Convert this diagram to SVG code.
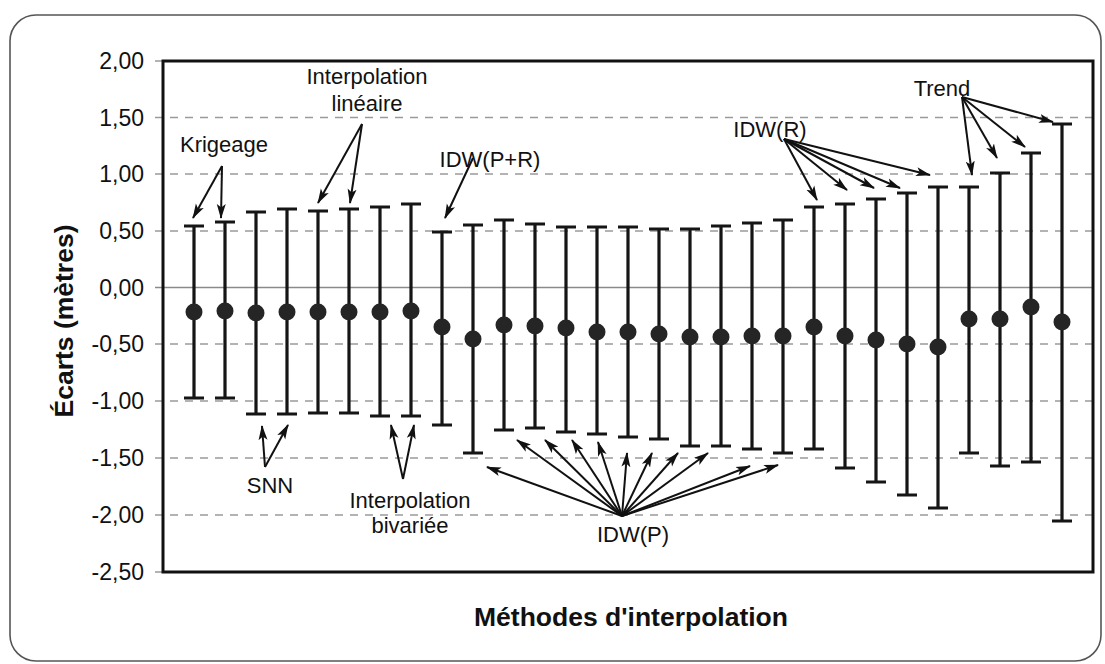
<svg xmlns="http://www.w3.org/2000/svg" width="1105" height="664" viewBox="0 0 1105 664">
  <style>
    text { font-family: "Liberation Sans", Arial, sans-serif; fill: #111; }
    .tick { font-size: 23px; text-anchor: end; }
    .lbl { font-size: 22px; text-anchor: middle; }
    .title { font-size: 26.5px; font-weight: bold; text-anchor: middle; }
    .grid { stroke: #9a9a9a; stroke-width: 1.5; stroke-dasharray: 8 7; fill: none; }
    .zero { stroke: #8a8a8a; stroke-width: 1.5; fill: none; }
    .frame { fill: none; stroke: #111; stroke-width: 3; }
    .bar path { stroke: #151515; stroke-width: 3.2; fill: none; }
    .bar circle { fill: #252525; }
    .arr line { stroke: #111; stroke-width: 2; marker-end: url(#head); }
  </style>
  <defs>
    <marker id="head" markerUnits="userSpaceOnUse" markerWidth="15" markerHeight="11" refX="14" refY="5.5" orient="auto">
      <path d="M0,1 L15,5.5 L0,10 L3.5,5.5 z" fill="#111"/>
    </marker>
  </defs>

  <!-- outer rounded border -->
  <rect x="10" y="15" width="1091" height="646" rx="26" ry="26" fill="#fff" stroke="#555" stroke-width="1.6"/>

  <!-- horizontal grid lines -->
  <g id="grid">
    <line class="grid" x1="155" y1="117.5" x2="1092" y2="117.5"/>
    <line class="grid" x1="155" y1="174" x2="1092" y2="174"/>
    <line class="grid" x1="155" y1="231" x2="1092" y2="231"/>
    <line class="zero" x1="155" y1="287.5" x2="1092" y2="287.5"/>
    <line class="grid" x1="155" y1="344" x2="1092" y2="344"/>
    <line class="grid" x1="155" y1="401" x2="1092" y2="401"/>
    <line class="grid" x1="155" y1="458" x2="1092" y2="458"/>
    <line class="grid" x1="155" y1="515" x2="1092" y2="515"/>
    <line class="grid" x1="155" y1="61" x2="163" y2="61"/>
    <line class="grid" x1="155" y1="572" x2="163" y2="572"/>
  </g>

  <!-- plot frame -->
  <rect class="frame" x="163" y="61" width="930" height="511"/>

  <!-- y axis values -->
  <g id="yticks">
    <text class="tick" x="144" y="69">2,00</text>
    <text class="tick" x="144" y="125.5">1,50</text>
    <text class="tick" x="144" y="182">1,00</text>
    <text class="tick" x="144" y="239">0,50</text>
    <text class="tick" x="144" y="295.5">0,00</text>
    <text class="tick" x="144" y="352">-0,50</text>
    <text class="tick" x="144" y="409">-1,00</text>
    <text class="tick" x="144" y="466">-1,50</text>
    <text class="tick" x="144" y="523">-2,00</text>
    <text class="tick" x="144" y="580">-2,50</text>
  </g>

  <!-- axis titles -->
  <text id="x-title" class="title" x="631" y="626">Méthodes d'interpolation</text>
  <text id="y-title" class="title" transform="translate(73,321) rotate(-90)">Écarts (mètres)</text>

  <!-- error bars: cap, stem, cap, mean marker -->
  <g id="bars" class="bar">
    <path d="M184,226h20M194,226V398M184,398h20"/><circle cx="194" cy="312" r="8.5"/>
    <path d="M215,222h20M225,222V398M215,398h20"/><circle cx="225" cy="311" r="8.5"/>
    <path d="M246,212h20M256,212V414M246,414h20"/><circle cx="256" cy="313" r="8.5"/>
    <path d="M277,209h20M287,209V414M277,414h20"/><circle cx="287" cy="312" r="8.5"/>
    <path d="M308,211h20M318,211V413M308,413h20"/><circle cx="318" cy="312" r="8.5"/>
    <path d="M339,209h20M349,209V413M339,413h20"/><circle cx="349" cy="312" r="8.5"/>
    <path d="M370,207h20M380,207V416M370,416h20"/><circle cx="380" cy="312" r="8.5"/>
    <path d="M401,204h20M411,204V416M401,416h20"/><circle cx="411" cy="311" r="8.5"/>
    <path d="M432,232h20M442,232V425M432,425h20"/><circle cx="442" cy="327" r="8.5"/>
    <path d="M463,225h20M473,225V453M463,453h20"/><circle cx="473" cy="339" r="8.5"/>
    <path d="M494,220h20M504,220V430M494,430h20"/><circle cx="504" cy="325" r="8.5"/>
    <path d="M525,224h20M535,224V428M525,428h20"/><circle cx="535" cy="326" r="8.5"/>
    <path d="M556,227h20M566,227V432M556,432h20"/><circle cx="566" cy="328" r="8.5"/>
    <path d="M587,227h20M597,227V434M587,434h20"/><circle cx="597" cy="332" r="8.5"/>
    <path d="M618,227h20M628,227V437M618,437h20"/><circle cx="628" cy="332" r="8.5"/>
    <path d="M649,229h20M659,229V439M649,439h20"/><circle cx="659" cy="334" r="8.5"/>
    <path d="M680,229h20M690,229V446M680,446h20"/><circle cx="690" cy="337" r="8.5"/>
    <path d="M711,226h20M721,226V446M711,446h20"/><circle cx="721" cy="337" r="8.5"/>
    <path d="M742,223h20M752,223V449M742,449h20"/><circle cx="752" cy="336" r="8.5"/>
    <path d="M773,220h20M783,220V453M773,453h20"/><circle cx="783" cy="336" r="8.5"/>
    <path d="M804,207h20M814,207V449M804,449h20"/><circle cx="814" cy="327" r="8.5"/>
    <path d="M835,204h20M845,204V468M835,468h20"/><circle cx="845" cy="336" r="8.5"/>
    <path d="M866,199h20M876,199V482M866,482h20"/><circle cx="876" cy="340" r="8.5"/>
    <path d="M897,193h20M907,193V495M897,495h20"/><circle cx="907" cy="344" r="8.5"/>
    <path d="M928,187h20M938,187V508M928,508h20"/><circle cx="938" cy="347" r="8.5"/>
    <path d="M959,187h20M969,187V453M959,453h20"/><circle cx="969" cy="319" r="8.5"/>
    <path d="M990,173h20M1000,173V466M990,466h20"/><circle cx="1000" cy="319" r="8.5"/>
    <path d="M1021,153h20M1031,153V462M1021,462h20"/><circle cx="1031" cy="307" r="8.5"/>
    <path d="M1052,124h20M1062,124V521M1052,521h20"/><circle cx="1062" cy="322" r="8.5"/>
  </g>

  <!-- method labels -->
  <g id="krigeage"><text class="lbl" x="224" y="152">Krigeage</text></g>
  <g id="lineaire"><text class="lbl" x="367" y="84">Interpolation</text><text class="lbl" x="367" y="111">linéaire</text></g>
  <g id="idw-pr"><text class="lbl" x="490" y="167">IDW(P+R)</text></g>
  <g id="snn"><text class="lbl" x="270" y="493">SNN</text></g>
  <g id="bivariee"><text class="lbl" x="410" y="508">Interpolation</text><text class="lbl" x="410" y="533">bivariée</text></g>
  <g id="idw-p"><text class="lbl" x="633" y="542">IDW(P)</text></g>
  <g id="idw-r"><text class="lbl" x="770" y="137">IDW(R)</text></g>
  <g id="trend"><text class="lbl" x="942" y="96">Trend</text></g>

  <!-- pointer arrows from labels to bars -->
  <g id="connectors" class="arr">
    <line x1="222" y1="166" x2="193" y2="218"/>
    <line x1="222" y1="166" x2="221" y2="218"/>
    <line x1="362" y1="124" x2="318" y2="203"/>
    <line x1="362" y1="124" x2="350" y2="203"/>
    <line x1="473" y1="158" x2="445" y2="218"/>
    <line x1="265" y1="467" x2="262" y2="426"/>
    <line x1="265" y1="467" x2="288" y2="425"/>
    <line x1="403" y1="479" x2="391" y2="425"/>
    <line x1="403" y1="479" x2="414" y2="425"/>
    <line x1="622" y1="516" x2="487" y2="467"/>
    <line x1="622" y1="516" x2="517" y2="440"/>
    <line x1="622" y1="516" x2="545" y2="440"/>
    <line x1="622" y1="516" x2="572" y2="440"/>
    <line x1="622" y1="516" x2="598" y2="442"/>
    <line x1="622" y1="516" x2="627" y2="453"/>
    <line x1="622" y1="516" x2="652" y2="453"/>
    <line x1="622" y1="516" x2="678" y2="453"/>
    <line x1="622" y1="516" x2="708" y2="453"/>
    <line x1="622" y1="516" x2="750" y2="466"/>
    <line x1="622" y1="516" x2="778" y2="465"/>
    <line x1="784" y1="139" x2="817" y2="200"/>
    <line x1="784" y1="139" x2="847" y2="190"/>
    <line x1="784" y1="139" x2="874" y2="188"/>
    <line x1="784" y1="139" x2="900" y2="188"/>
    <line x1="784" y1="139" x2="930" y2="175"/>
    <line x1="962" y1="97" x2="972" y2="175"/>
    <line x1="962" y1="97" x2="997" y2="158"/>
    <line x1="962" y1="97" x2="1025" y2="147"/>
    <line x1="962" y1="97" x2="1053" y2="122"/>
  </g>
</svg>
